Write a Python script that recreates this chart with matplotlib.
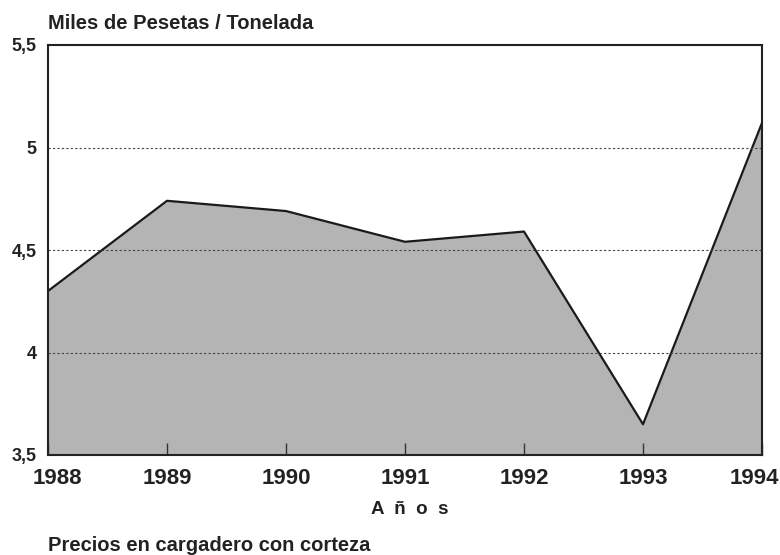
import matplotlib.pyplot as plt
import matplotlib.transforms as mtransforms
import numpy as np

plt.rcParams['font.family'] = ['Liberation Sans', 'DejaVu Sans']

# precios (miles de pesetas / tonelada)
years = [1988, 1989, 1990, 1991, 1992, 1993, 1994]
precio = [4.30, 4.74, 4.69, 4.54, 4.59, 3.65, 5.12]
ytick_vals = [3.5, 4, 4.5, 5, 5.5]
ytick_labels = ['3,5', '4', '4,5', '5', '5,5']

fig = plt.figure(figsize=(7.8, 5.55), dpi=100)
ax = fig.add_axes([48/780, 1-455/555, (762-48)/780, (455-45)/555])

ax.fill_between(years, precio, 3.5, color='#b4b4b4', linewidth=0)
ax.plot(years, precio, color='#1a1a1a', linewidth=1.6)

ax.set_xlim(1988, 1994)
ax.set_ylim(3.5, 5.5)

for y in [4, 4.5, 5]:
    ax.axhline(y, color='#444444', linestyle=(0, (2, 2)), linewidth=0.8, zorder=3)

ax.set_xticks(years)
ax.set_xticklabels([str(y) for y in years], fontsize=16, fontweight='bold', color='#222222')
ax.set_yticks(ytick_vals)
ax.set_yticklabels(ytick_labels, fontsize=13, fontweight='bold', color='#222222')
ax.tick_params(axis='x', direction='in', length=9, width=1, color='#333333', pad=9)
ax.tick_params(axis='y', length=0, pad=8)

# first and last year labels sit a bit inward
labs = ax.get_xticklabels()
labs[0].set_transform(labs[0].get_transform() + mtransforms.ScaledTranslation(9/100, 0, fig.dpi_scale_trans))
labs[-1].set_transform(labs[-1].get_transform() + mtransforms.ScaledTranslation(-8/100, 0, fig.dpi_scale_trans))

for s in ax.spines.values():
    s.set_linewidth(1.5)
    s.set_color('#222222')
    s.set_zorder(4)

fig.text(48/780, 1-29/555, 'Miles de Pesetas / Tonelada', fontsize=14.5, fontweight='bold',
         color='#222222', va='baseline', ha='left')
fig.text(410/780, 1-514/555, 'A  ñ  o  s', fontsize=13.5, fontweight='bold',
         color='#222222', va='baseline', ha='center')
fig.text(48/780, 1-551/555, 'Precios en cargadero con corteza', fontsize=14.5, fontweight='bold',
         color='#222222', va='baseline', ha='left')

fig.savefig('out.png', dpi=100)
